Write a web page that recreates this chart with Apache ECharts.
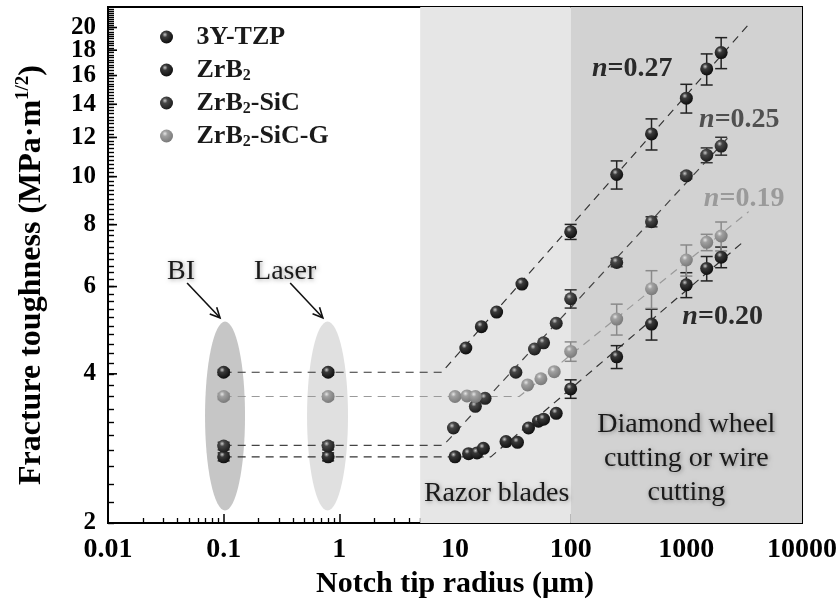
<!DOCTYPE html>
<html><head><meta charset="utf-8">
<script src="https://cdn.jsdelivr.net/npm/echarts@6/dist/echarts.min.js"></script>
<style>html,body{margin:0;padding:0;background:#fff}#c{width:840px;height:599px}</style>
</head><body><div id="c"></div>
<script>
// ---------------- data ----------------
const seriesNames = ['3Y-TZP', 'ZrB2', 'ZrB2-SiC', 'ZrB2-SiC-G'];

const tzpX   = [0.1, 0.8, 12.4, 16.9, 22.9, 37.9, 100, 250, 500, 1000, 1500, 2000];
const tzpY   = [4.03, 4.03, 4.51, 4.98, 5.33, 6.07, 7.74, 10.1, 12.2, 14.4, 16.5, 17.8];
const tzpErr = [0.05, 0.05, 0, 0, 0, 0, 0.27, 0.66, 0.88, 0.96, 1.19, 1.28];

const zrb2X   = [0.1, 0.8, 10.0, 13.1, 15.5, 17.6, 27.6, 34.7, 43.2, 52.7, 58.3, 75, 100, 250, 500, 1000, 1500, 2000];
const zrb2Y   = [2.72, 2.72, 2.72, 2.76, 2.77, 2.83, 2.92, 2.91, 3.11, 3.21, 3.24, 3.33, 3.73, 4.33, 5.04, 6.05, 6.53, 6.88];
const zrb2Err = [0.05, 0.05, 0, 0, 0, 0, 0, 0, 0, 0, 0, 0, 0.16, 0.23, 0.36, 0.35, 0.37, 0.33];

const sicX   = [0.1, 0.8, 9.7, 15.0, 18.2, 33.6, 48.7, 58.3, 75, 100, 250, 500, 1000, 1500, 2000];
const sicY   = [2.86, 2.86, 3.11, 3.44, 3.57, 4.03, 4.49, 4.62, 5.06, 5.67, 6.71, 8.11, 10.04, 11.05, 11.53];
const sicErr = [0.05, 0.05, 0, 0, 0, 0, 0, 0, 0, 0.24, 0.13, 0.19, 0.14, 0.38, 0.48];

const sicgX   = [0.1, 0.8, 10.0, 12.7, 15.0, 42.4, 55.3, 72.1, 100, 250, 500, 1000, 1500, 2000];
const sicgY   = [3.60, 3.60, 3.60, 3.61, 3.60, 3.80, 3.91, 4.04, 4.44, 5.16, 5.94, 6.79, 7.37, 7.59];
const sicgErr = [0.05, 0.05, 0, 0, 0, 0, 0, 0, 0.20, 0.37, 0.52, 0.49, 0.28, 0.51];

// dashed fits: plateau then power law (x, y)
const tzpFitX  = [0.1, 7.7, 3600];   const tzpFitY  = [4.03, 4.03, 20.5];
const zrb2FitX = [0.1, 20.4, 3240];  const zrb2FitY = [2.72, 2.72, 7.45];
const sicFitX  = [0.1, 7.95, 2400];  const sicFitY  = [2.87, 2.87, 12.13];
const sicgFitX = [0.1, 35.9, 3460];  const sicgFitY = [3.60, 3.60, 8.50];

// axis ticks
const xMajor = [0.01, 0.1, 1, 10, 100, 1000, 10000];
const xMinorMult = [2, 3, 4, 5, 6, 7, 8, 9];
const yMajor = [2, 4, 6, 8, 10, 12, 14, 16, 18, 20];
const yMinorStep = 0.2;

// regions & annotations (data coordinates)
const bandEdges = [5, 100, 10000];
const ellipseX = [[0.069, 0.153], [0.526, 1.188]];
const ellipseY = [[2.12, 5.10], [2.12, 5.10]];
const arrowFromX = [0.0483, 0.376]; const arrowFromY = [6.10, 6.10];
const arrowToX   = [0.093, 0.72];   const arrowToY   = [5.19, 5.19];
const annoTexts = ['BI', 'Laser', 'Razor blades', 'Diamond wheel\ncutting or wire\ncutting'];
const annoX = [0.0428, 0.34, 22.9, 1000];
const annoY = [6.42, 6.42, 2.29, 2.70];
const nTexts = ['0.27', '0.25', '0.19', '0.20'];
const nX = [341, 2873, 3160, 2060];
const nY = [16.5, 13.0, 9.04, 5.21];

// ---------------- build ----------------
const FF = '"Liberation Serif","Times New Roman",serif';
const zip = (a, b) => a.map((v, i) => [v, b[i]]);
const xMinor = [];
xMajor.slice(0, -1).forEach(d => xMinorMult.forEach(m => xMinor.push(+(d * m).toPrecision(6))));
const yAllTicks = [];
for (let k = 10; k <= 109; k++) yAllTicks.push(+(k * yMinorStep).toFixed(1));
const yMinor = yAllTicks.filter(v => yMajor.indexOf(v) < 0);

function sphere(hi, base, dark) {
  return { type: 'radial', x: 0.38, y: 0.32, r: 0.68,
    colorStops: [{ offset: 0, color: hi }, { offset: 0.3, color: base }, { offset: 1, color: dark }] };
}
const styles = [
  { fill: sphere('#c8c8c8', '#3a3a3a', '#0e0e0e'), line: '#333', err: '#222' },
  { fill: sphere('#c8c8c8', '#383838', '#101010'), line: '#333', err: '#222' },
  { fill: sphere('#c8c8c8', '#474747', '#1c1c1c'), line: '#444', err: '#333' },
  { fill: sphere('#e4e4e4', '#a0a0a0', '#7a7a7a'), line: '#9a9a9a', err: '#8a8a8a' }
];
const allX = [tzpX, zrb2X, sicX, sicgX];
const allY = [tzpY, zrb2Y, sicY, sicgY];
const allE = [tzpErr, zrb2Err, sicErr, sicgErr];
const fitX = [tzpFitX, zrb2FitX, sicFitX, sicgFitX];
const fitY = [tzpFitY, zrb2FitY, sicFitY, sicgFitY];
const nColors = ['#2a2a2a', '#505050', '#9a9a9a', '#2a2a2a'];

const series = [];

// background bands + ellipses
series.push({
  type: 'custom', z: 1, silent: true,
  data: ellipseX.map((ex, i) => [ex[0], ex[1], ellipseY[i][0], ellipseY[i][1]]),
  encode: { x: [0, 1], y: [2, 3] },
  renderItem: function (params, api) {
    const a = api.coord([api.value(0), api.value(2)]);
    const b = api.coord([api.value(1), api.value(3)]);
    return {
      type: 'circle', x: (a[0] + b[0]) / 2, y: (a[1] + b[1]) / 2,
      scaleX: Math.abs(b[0] - a[0]) / 2, scaleY: Math.abs(b[1] - a[1]) / 2,
      shape: { cx: 0, cy: 0, r: 1 },
      style: { fill: params.dataIndex === 0 ? '#c6c6c6' : '#e0e0e0' }
    };
  },
  markArea: {
    silent: true,
    data: [
      [{ xAxis: bandEdges[0], itemStyle: { color: '#e6e6e6' } }, { xAxis: bandEdges[1] }],
      [{ xAxis: bandEdges[1], itemStyle: { color: '#d2d2d2' } }, { xAxis: bandEdges[2] }]
    ]
  }
});

// fits
fitX.forEach((fx, i) => {
  series.push({
    type: 'line', z: 2, silent: true, symbol: 'none', data: zip(fx, fitY[i]),
    lineStyle: { color: styles[i].line, width: 1.2, type: [8, 6] }
  });
});

// error bars
allX.forEach((xs, i) => {
  const d = [];
  xs.forEach((x, k) => { if (allE[i][k] > 0) d.push([x, allY[i][k], allY[i][k] - allE[i][k], allY[i][k] + allE[i][k]]); });
  series.push({
    type: 'custom', z: 3, silent: true, data: d, encode: { x: 0, y: [1, 2, 3] },
    renderItem: function (params, api) {
      const lo = api.coord([api.value(0), api.value(2)]);
      const hi = api.coord([api.value(0), api.value(3)]);
      const w = 6;
      const st = { stroke: styles[i].err, lineWidth: 1.5 };
      return { type: 'group', children: [
        { type: 'line', shape: { x1: lo[0], y1: lo[1], x2: hi[0], y2: hi[1] }, style: st },
        { type: 'line', shape: { x1: lo[0] - w, y1: lo[1], x2: lo[0] + w, y2: lo[1] }, style: st },
        { type: 'line', shape: { x1: hi[0] - w, y1: hi[1], x2: hi[0] + w, y2: hi[1] }, style: st }
      ] };
    }
  });
});

// points
allX.forEach((xs, i) => {
  series.push({
    name: seriesNames[i], type: 'scatter', z: 4, symbol: 'circle', symbolSize: 13,
    data: zip(xs, allY[i]), itemStyle: { color: styles[i].fill, opacity: 1 }
  });
});

// arrows
series.push({
  type: 'custom', z: 5, silent: true,
  data: arrowFromX.map((x, i) => [x, arrowFromY[i], arrowToX[i], arrowToY[i]]),
  encode: { x: [0, 2], y: [1, 3] },
  renderItem: function (params, api) {
    const a = api.coord([api.value(0), api.value(1)]);
    const b = api.coord([api.value(2), api.value(3)]);
    const ang = Math.atan2(b[1] - a[1], b[0] - a[0]);
    const L = 11, s = 0.45;
    const p1 = [b[0] - L * Math.cos(ang - s), b[1] - L * Math.sin(ang - s)];
    const p2 = [b[0] - L * Math.cos(ang + s), b[1] - L * Math.sin(ang + s)];
    const st = { stroke: '#111', lineWidth: 1.6, fill: null };
    return { type: 'group', children: [
      { type: 'line', shape: { x1: a[0], y1: a[1], x2: b[0], y2: b[1] }, style: st },
      { type: 'polyline', shape: { points: [p1, b, p2] }, style: st }
    ] };
  }
});

// y axis labels (outside, left of axis)
series.push({
  type: 'custom', z: 8, silent: true, clip: false,
  data: yMajor.map(v => [xMajor[0], v]),
  encode: { x: 0, y: 1 },
  renderItem: function (params, api) {
    const p = api.coord([api.value(0), api.value(1)]);
    return { type: 'text', x: p[0] - 12, y: p[1], style: {
      text: String(api.value(1)), fontFamily: FF, fontWeight: 'bold', fontSize: 25, fill: '#000',
      align: 'right', verticalAlign: 'middle' } };
  }
});

// annotation texts
series.push({
  type: 'custom', z: 6, silent: true,
  data: annoX.map((x, i) => [x, annoY[i]]),
  encode: { x: 0, y: 1 },
  renderItem: function (params, api) {
    const p = api.coord([api.value(0), api.value(1)]);
    return { type: 'text', x: p[0], y: p[1], style: {
      text: annoTexts[params.dataIndex], fontFamily: FF, fontSize: 28, fill: '#1a1a1a',
      align: 'center', verticalAlign: 'middle', lineHeight: 34,
      textShadowColor: 'rgba(0,0,0,0.35)', textShadowBlur: 4, textShadowOffsetX: 1, textShadowOffsetY: 1
    } };
  }
});
series.push({
  type: 'custom', z: 6, silent: true,
  data: nX.map((x, i) => [x, nY[i]]),
  encode: { x: 0, y: 1 },
  renderItem: function (params, api) {
    const p = api.coord([api.value(0), api.value(1)]);
    const c = nColors[params.dataIndex];
    return { type: 'text', x: p[0], y: p[1], style: {
      text: '{i|n}{r|=' + nTexts[params.dataIndex] + '}',
      align: 'center', verticalAlign: 'middle',
      rich: {
        i: { fontFamily: FF, fontSize: 28, fontWeight: 'bold', fontStyle: 'italic', fill: c },
        r: { fontFamily: FF, fontSize: 28, fontWeight: 'bold', fill: c }
      }
    } };
  }
});

const axisFont = { fontFamily: FF, fontWeight: 'bold', color: '#000' };
const option = {
  animation: false,
  backgroundColor: '#fff',
  grid: { left: 108, right: 38, top: 7, bottom: 76, containLabel: false, outerBoundsMode: 'none',
    show: true, borderColor: '#000', borderWidth: 2, backgroundColor: '#fff' },
  legend: {
    orient: 'vertical', left: 160, top: 23, padding: 0, itemGap: 5,
    itemWidth: 50, itemHeight: 13, icon: 'circle',
    data: seriesNames,
    formatter: n => n.replace(/2/g, '{s|2}'),
    textStyle: { fontFamily: FF, fontSize: 26, fontWeight: 'bold', color: '#1a1a1a', lineHeight: 28,
      rich: { s: { fontFamily: FF, fontSize: 16, fontWeight: 'bold', color: '#1a1a1a', verticalAlign: 'bottom', lineHeight: 16 } } }
  },
  xAxis: [
    { type: 'log', logBase: 10, min: 0.01, max: 10000, position: 'bottom',
      axisLine: { show: true, onZero: false, lineStyle: { color: '#000', width: 2 } },
      axisTick: { show: true, inside: true, length: 9, lineStyle: { color: '#000', width: 1.5 }, customValues: xMajor },
      axisLabel: Object.assign({ customValues: xMajor, fontSize: 28, margin: 13, hideOverlap: false,
        formatter: v => String(+(+v).toPrecision(6)) }, axisFont),
      splitLine: { show: false }, minorTick: { show: false },
      name: 'Notch tip radius (μm)', nameLocation: 'middle', nameGap: 45,
      nameTextStyle: { fontFamily: FF, fontWeight: 'bold', fontSize: 30, color: '#000' } },
    { type: 'log', logBase: 10, min: 0.01, max: 10000, position: 'bottom',
      axisLine: { show: false },
      axisTick: { show: true, inside: true, length: 5, lineStyle: { color: '#000', width: 1.3 }, customValues: xMinor },
      axisLabel: { show: false }, splitLine: { show: false } }
  ],
  yAxis: [
    { type: 'log', logBase: 10, min: 2, max: 22, position: 'left',
      axisLine: { show: true, onZero: false, lineStyle: { color: '#000', width: 2 } },
      axisTick: { show: true, inside: true, interval: 0, length: 6, lineStyle: { color: '#000', width: 1.4 }, customValues: yAllTicks },
      axisLabel: { show: false },
      splitLine: { show: false }, minorTick: { show: false },
      name: 'Fracture toughness (MPa·m{sup|1/2})', nameLocation: 'middle', nameRotate: 90, nameGap: 58,
      nameTextStyle: { fontFamily: FF, fontWeight: 'bold', fontSize: 32, color: '#000', lineHeight: 36,
        padding: [0, 20, 0, 0],
        rich: { sup: { fontFamily: FF, fontWeight: 'bold', fontSize: 19, color: '#000', verticalAlign: 'top', lineHeight: 19 } } } }
  ],
  series: series
};
const chart = echarts.init(document.getElementById('c'), null, { renderer: 'canvas' });
chart.setOption(option);

// longer major y ticks placed through the chart's own y scale
const tickEls = yMajor.map(v => {
  const p = chart.convertToPixel({ xAxisIndex: 0, yAxisIndex: 0 }, [xMajor[0], v]);
  return { type: 'rect', z: 100, silent: true,
    shape: { x: p[0], y: p[1] - 0.8, width: 9, height: 1.6 },
    style: { fill: '#000' } };
});
chart.setOption({ graphic: [{ type: 'group', z: 100, children: tickEls }] });
</script>
</body></html>
